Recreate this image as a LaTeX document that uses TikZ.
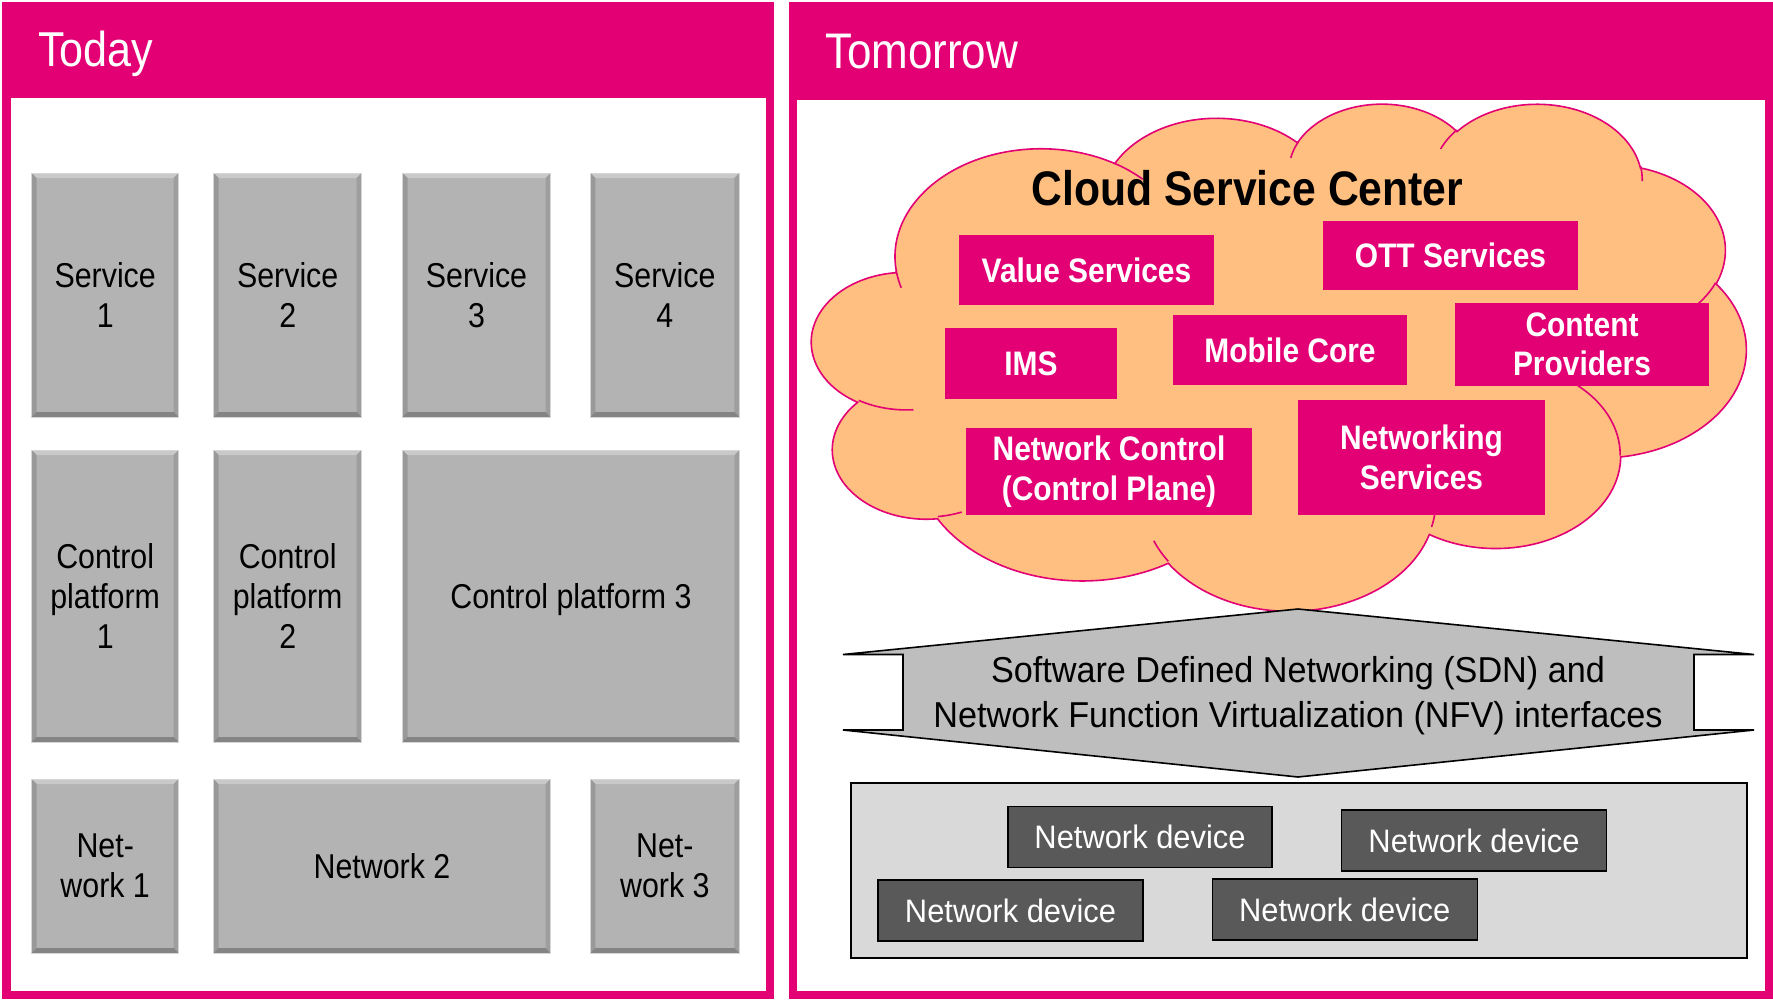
\documentclass[tikz,border=0pt]{standalone}
\usepackage{fontspec}
\setmainfont{Liberation Sans}[FakeStretch=0.88]
\newfontfamily\widefont{Liberation Sans}[FakeStretch=0.95]
\definecolor{tmag}{HTML}{E20074}
\definecolor{peach}{RGB}{255,191,128}
\definecolor{facegray}{HTML}{B3B3B3}
\definecolor{bevtopc}{HTML}{C9C9C9}
\definecolor{bevleftc}{HTML}{999999}
\definecolor{bevrightc}{HTML}{9E9E9E}
\definecolor{bevbotc}{HTML}{848484}
\definecolor{rimgray}{HTML}{D6D6D6}
\definecolor{arrowgray}{HTML}{BEBEBE}
\definecolor{contgray}{HTML}{D9D9D9}
\definecolor{devgray}{HTML}{595959}
% cloud geometry: preset path space (4320 x 4320 after dividing by ten) mapped onto the picture
\def\cx{812}
\def\cy{102.5}
\def\sx{0.2162}
\def\sy{0.11736}
\begin{document}
\begin{tikzpicture}[x=1pt,y=-1pt,
  every node/.style={inner sep=0pt, outer sep=0pt},
  bevelbox/.style={fill=facegray, draw=rimgray, line width=0.8pt, align=center,
    text=black, font=\fontsize{34.5}{40}\selectfont,
    path picture={
      \path (path picture bounding box.north west) coordinate (bnw)
            (path picture bounding box.north east) coordinate (bne)
            (path picture bounding box.south west) coordinate (bsw)
            (path picture bounding box.south east) coordinate (bse);
      \fill[bevtopc] (bnw) -- (bne) -- ([shift={(-5pt,-5pt)}]bne) -- ([shift={(5pt,-5pt)}]bnw) -- cycle;
      \fill[bevleftc] (bnw) -- ([shift={(5pt,-5pt)}]bnw) -- ([shift={(5pt,5pt)}]bsw) -- (bsw) -- cycle;
      \fill[bevrightc] (bne) -- (bse) -- ([shift={(-5pt,5pt)}]bse) -- ([shift={(-5pt,-5pt)}]bne) -- cycle;
      \fill[bevbotc] (bsw) -- ([shift={(5pt,5pt)}]bsw) -- ([shift={(-5pt,5pt)}]bse) -- (bse) -- cycle;
    }},
  magbox/.style={fill=tmag, text=white, align=center,
    font=\bfseries\fontsize{34}{39.5}\selectfont},
  devbox/.style={fill=devgray, draw=black, line width=1.3pt, text=white,
    font=\widefont\fontsize{32.5}{38}\selectfont},
  title/.style={anchor=base west, text=white},
  cloudline/.style={draw=tmag, line width=1.6pt},
  dml arc/.style n args={4}{insert path={arc[x radius={#1*\sx/10*1pt}, y radius={#2*\sy/10*1pt},
    start angle={-atan2(#1*sin(#3),#2*cos(#3))},
    delta angle={-mod(atan2(#1*sin(#3+#4),#2*cos(#3+#4))-atan2(#1*sin(#3),#2*cos(#3))+720,360)}]}}
]
\useasboundingbox (0,0) rectangle (1773,999);
\fill[white] (0,0) rectangle (1773,999);

% ---------- left panel ----------
\fill[tmag] (2,2) rectangle (774,999);
\fill[white] (11,98) rectangle (766,991);
\node[title, font=\fontsize{49}{55}\selectfont] (today) at (38,66) {Today};

\node[bevelbox, minimum width=147, minimum height=244] (s1) at (105.2,295) {Service\\1};
\node[bevelbox, minimum width=148, minimum height=244] (s2) at (287.7,295) {Service\\2};
\node[bevelbox, minimum width=148, minimum height=244] (s3) at (476.5,295) {Service\\3};
\node[bevelbox, minimum width=149, minimum height=244] (s4) at (664.8,295) {Service\\4};

\node[bevelbox, minimum width=147, minimum height=292] (cp1) at (105.2,596) {Control\\platform\\1};
\node[bevelbox, minimum width=148, minimum height=292] (cp2) at (287.7,596) {Control\\platform\\2};
\node[bevelbox, minimum width=337, minimum height=292, text depth=0pt] (cp3) at (571,596) {Control platform 3};

\node[bevelbox, minimum width=147, minimum height=174] (n1) at (105.2,866) {Net-\\work 1};
\node[bevelbox, minimum width=337, minimum height=174] (n2) at (382,866) {Network 2};
\node[bevelbox, minimum width=149, minimum height=174] (n3) at (664.8,866) {Net-\\work 3};

% ---------- right panel ----------
\fill[tmag] (789,2) rectangle (1773,999);
\fill[white] (797,100) rectangle (1765,991);
\node[title, font=\fontsize{50}{55}\selectfont] (tomorrow) at (825,68.3) {Tomorrow};

% cloud outline
\filldraw[fill=peach, cloudline]
  ({\cx+390*\sx},{\cy+1437*\sy})
  [dml arc={6753}{9190}{-190.4875}{123.7805}]
  [dml arc={5333}{7267}{-144.1024}{89.9452}]
  [dml arc={4365}{5945}{-145.8079}{99.7230}]
  [dml arc={4857}{6595}{-130.9861}{117.2417}]
  [dml arc={5333}{7273}{-78.7089}{109.0269}]
  [dml arc={6775}{9220}{-46.2673}{130.2690}]
  [dml arc={5785}{7867}{0.6250}{114.0333}]
  [dml arc={6752}{9215}{22.4516}{115.1726}]
  [dml arc={7720}{10543}{66.2426}{75.7110}]
  [dml arc={4360}{5918}{-274.9421}{146.7356}]
  [dml arc={4345}{5945}{-246.8285}{152.5189}]
  -- cycle;
% inner folds of the cloud
\draw[cloudline]
  ({\cx+469.3*\sx},{\cy+2617.7*\sy}) [dml arc={4345}{5945}{86.7420}{26.4295}]
  ({\cx+692.8*\sx},{\cy+3489.9*\sy}) [dml arc={4360}{5918}{73.6105}{11.4475}]
  ({\cx+1647.8*\sx},{\cy+3909.0*\sy}) [dml arc={6752}{9215}{137.6242}{14.0811}]
  ({\cx+2882.7*\sx},{\cy+3475.1*\sy}) [dml arc={6752}{9215}{6.4533}{11.9723}]
  ({\cx+3412.9*\sx},{\cy+2295.4*\sy}) [dml arc={5785}{7867}{-70.2924}{70.9174}]
  ({\cx+4179.8*\sx},{\cy+1535.4*\sy}) [dml arc={5333}{7273}{30.3180}{27.7515}]
  ({\cx+3832.4*\sx},{\cy+542.6*\sy}) [dml arc={4857}{6595}{-13.7443}{14.8622}]
  ({\cx+2907.8*\sx},{\cy+395.2*\sy}) [dml arc={4857}{6595}{-149.1815}{18.1954}]
  ({\cx+2214.1*\sx},{\cy+472.0*\sy}) [dml arc={4365}{5945}{-163.4943}{17.6864}]
  ({\cx+1400.0*\sx},{\cy+519.2*\sy}) [dml arc={6753}{9190}{-66.7070}{12.3194}]
  ({\cx+412.7*\sx},{\cy+1578.9*\sy}) [dml arc={6753}{9190}{157.6544}{11.8582}];

\node[anchor=base, font=\bfseries\fontsize{48.5}{52}\selectfont] (csc) at (1247.5,205) {Cloud Service Center};

\node[magbox, minimum width=255, minimum height=70] (vs) at (1086.5,270) {Value Services};
\node[magbox, minimum width=255, minimum height=69] (ott) at (1450.5,255.5) {OTT Services};
\node[magbox, minimum width=172, minimum height=71] (ims) at (1031,363.5) {IMS};
\node[magbox, minimum width=234, minimum height=70] (mc) at (1290,350) {Mobile Core};
\node[magbox, minimum width=254, minimum height=83] (cprov) at (1582,344.5) {Content\\Providers};
\node[magbox, minimum width=286, minimum height=87] (nc) at (1109,471.5) {Network Control\\(Control Plane)};
\node[magbox, minimum width=247, minimum height=115] (ns) at (1421.5,457.5) {Networking\\Services};

% SDN / NFV double arrow
\filldraw[fill=arrowgray, draw=black, line width=1.6pt, line join=miter]
  (1298,609) -- (1754,654.5) -- (1694,654.5) -- (1694,730) -- (1754,730)
  -- (1298,777) -- (843,730) -- (903,730) -- (903,654.5) -- (843,654.5) -- cycle;
\node[anchor=north, align=center, font=\widefont\fontsize{36}{45}\selectfont] (sdn) at (1298,656.7)
  {Software Defined Networking (SDN) and\\Network Function Virtualization (NFV) interfaces};

% infrastructure layer
\node[draw=black, fill=contgray, line width=1.5pt, minimum width=896, minimum height=175] (infra) at (1299,870.7) {};
\node[devbox, minimum width=264, minimum height=60.6] (d1) at (1140,837) {Network device};
\node[devbox, minimum width=265, minimum height=61] (d2) at (1474,840.5) {Network device};
\node[devbox, minimum width=265, minimum height=61] (d3) at (1010.5,910.5) {Network device};
\node[devbox, minimum width=265, minimum height=61] (d4) at (1344.7,909.5) {Network device};
\end{tikzpicture}
\end{document}
